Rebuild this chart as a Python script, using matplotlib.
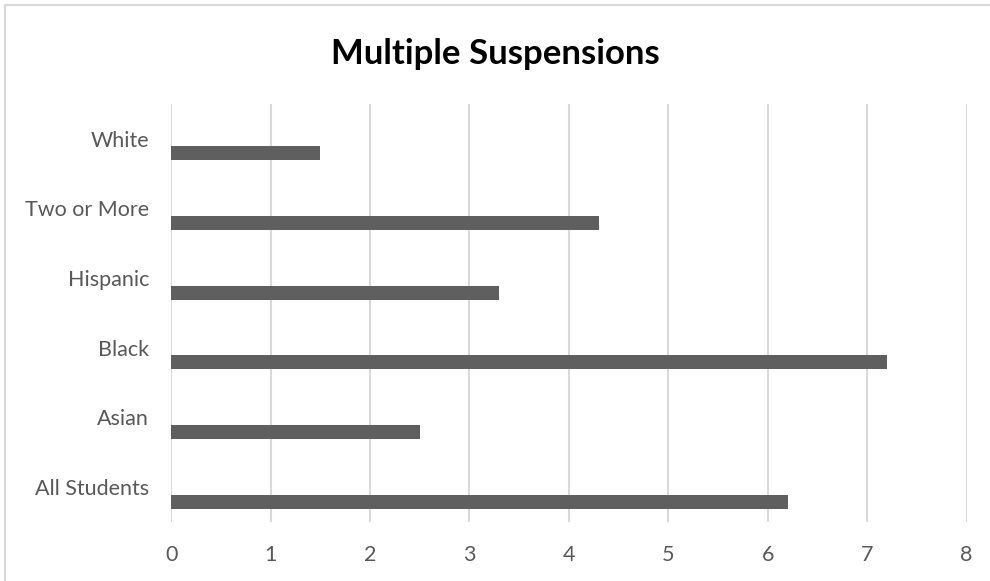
import matplotlib
matplotlib.use("Agg")
import matplotlib.pyplot as plt
from matplotlib.lines import Line2D

categories = ["All Students", "Asian", "Black", "Hispanic", "Two or More", "White"]
values = [6.2, 2.5, 7.2, 3.3, 4.3, 1.5]
x_ticks = [0, 1, 2, 3, 4, 5, 6, 7, 8]

plt.rcParams["font.family"] = ["Lato", "DejaVu Sans"]

fig = plt.figure(figsize=(9.9, 5.81), dpi=100)
ax = fig.add_axes([0.173, 0.102, 0.8033, 0.719])

# chart-area frame (top and left edges)
fx, fy = 5 / 990, 1 - 5 / 581
fig.lines.append(Line2D([fx, 1.0], [fy, fy], transform=fig.transFigure,
                        color="#d9d9d9", linewidth=1.5))
fig.lines.append(Line2D([fx, fx], [0.0, fy], transform=fig.transFigure,
                        color="#d9d9d9", linewidth=1.5))

pos = list(range(len(categories)))
ax.barh([p - 0.21 for p in pos], values, height=0.2, color="#5f5f5f", zorder=3)

ax.set_xlim(0, 8)
ax.set_ylim(-0.5, len(categories) - 0.5)
ax.set_xticks(x_ticks)
ax.set_xticklabels([str(t) for t in x_ticks])
ax.set_yticks(pos)
ax.set_yticklabels(categories)
ax.tick_params(axis="both", length=0, labelsize=15.5, colors="#595959")
ax.tick_params(axis="x", pad=17)
ax.tick_params(axis="y", pad=16)
ax.grid(axis="x", color="#d9d9d9", linewidth=1.5, zorder=0)
for s in ax.spines.values():
    s.set_visible(False)

fig.text(0.5, 1 - 54 / 581, "Multiple Suspensions", ha="center", va="center",
         fontsize=25, fontweight="bold", color="#000000")

fig.savefig("out.png", dpi=100)
